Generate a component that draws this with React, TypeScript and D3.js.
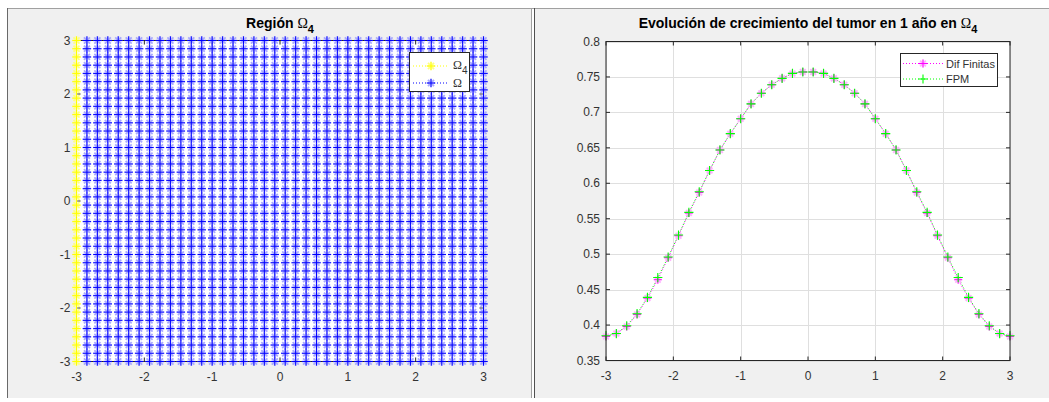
import React from 'react';
import * as d3 from 'd3';

// grid nodes used by both figures (linspace(-3,3,40))
const xNodes = [
  -3, -2.8462, -2.6923, -2.5385, -2.3846, -2.2308, -2.0769, -1.9231, -1.7692, -1.6154,
  -1.4615, -1.3077, -1.1538, -1.0, -0.8462, -0.6923, -0.5385, -0.3846, -0.2308, -0.0769,
  0.0769, 0.2308, 0.3846, 0.5385, 0.6923, 0.8462, 1.0, 1.1538, 1.3077, 1.4615,
  1.6154, 1.7692, 1.9231, 2.0769, 2.2308, 2.3846, 2.5385, 2.6923, 2.8462, 3,
];
const yNodes = xNodes;

// tumour growth after 1 year
const difFinitas = [
  0.384, 0.388, 0.398, 0.415, 0.438, 0.464, 0.495, 0.526, 0.558, 0.587,
  0.618, 0.647, 0.670, 0.691, 0.712, 0.727, 0.739, 0.748, 0.755, 0.757,
  0.757, 0.755, 0.748, 0.739, 0.727, 0.712, 0.691, 0.670, 0.647, 0.618,
  0.587, 0.558, 0.526, 0.495, 0.464, 0.438, 0.415, 0.398, 0.388, 0.384,
];
const fpm = [
  0.385, 0.388, 0.399, 0.416, 0.439, 0.467, 0.496, 0.527, 0.559, 0.588,
  0.618, 0.647, 0.670, 0.691, 0.712, 0.727, 0.739, 0.748, 0.755, 0.757,
  0.757, 0.755, 0.748, 0.739, 0.727, 0.712, 0.691, 0.670, 0.647, 0.618,
  0.588, 0.559, 0.527, 0.496, 0.467, 0.439, 0.416, 0.399, 0.388, 0.385,
];

const leftTicks = [-3, -2, -1, 0, 1, 2, 3];
const rightXTicks = [-3, -2, -1, 0, 1, 2, 3];
const rightYTicks = [0.35, 0.4, 0.45, 0.5, 0.55, 0.6, 0.65, 0.7, 0.75, 0.8];

const FONT = '"Liberation Sans", Arial, Helvetica, sans-serif';
const SERIF = '"Liberation Serif", "Times New Roman", serif';
const TXT = '#333';
const AX = '#262626';
const TICK_FS = 12;
const TITLE_FS = 14;

function starPaths(pts: [number, number][], r: number) {
  let plus = '';
  let cross = '';
  const d = r * 0.72;
  pts.forEach(([x, y]) => {
    plus += `M${x - r},${y}h${2 * r}M${x},${y - r}v${2 * r}`;
    cross += `M${x - d},${y - d}l${2 * d},${2 * d}M${x - d},${y + d}l${2 * d},${-2 * d}`;
  });
  return { plus, cross };
}

function plusPath(pts: [number, number][], r: number) {
  let p = '';
  pts.forEach(([x, y]) => {
    p += `M${x - r},${y}h${2 * r}M${x},${y - r}v${2 * r}`;
  });
  return p;
}

const Stars: React.FC<{ pts: [number, number][]; color: string; halo: string; r?: number }> = ({ pts, color, halo, r = 4 }) => {
  const { plus, cross } = starPaths(pts, r);
  return (
    <g>
      <path d={cross} stroke={halo} strokeWidth={1.8} fill="none" />
      <path d={plus} stroke={halo} strokeWidth={2.2} fill="none" opacity={0.6} />
      <path d={plus} stroke={color} strokeWidth={1} fill="none" />
    </g>
  );
};

const LeftPlot: React.FC = () => {
  const x = d3.scaleLinear().domain([-3, 3]).range([76.5, 483.5]);
  const y = d3.scaleLinear().domain([-3, 3]).range([361.5, 40.5]);
  const x0 = x(-3), x1 = x(3), y0 = y(-3), y1 = y(3);

  const omega4: [number, number][] = yNodes.map((v) => [x(xNodes[0]), y(v)]);
  const omega: [number, number][] = [];
  xNodes.slice(1).forEach((xv) => yNodes.forEach((yv) => omega.push([x(xv), y(yv)])));

  const colLine = d3.line<number>().x(() => 0).y((v) => y(v));

  return (
    <g>
      <rect x={x0} y={y1} width={x1 - x0} height={y0 - y1} fill="#fff" />
      {/* dotted connecting lines, one per column */}
      {xNodes.map((xv, i) => (
        <path key={i} transform={`translate(${x(xv)},0)`} d={colLine(yNodes) || ''}
          stroke={i === 0 ? '#ffff00' : '#0000ff'} strokeWidth={1} strokeDasharray="1 2" fill="none" />
      ))}
      {/* axes box and ticks */}
      <rect x={x0} y={y1} width={x1 - x0} height={y0 - y1} fill="none" stroke={AX} strokeWidth={1} />
      {leftTicks.map((t) => (
        <g key={'t' + t} stroke={AX} strokeWidth={1}>
          <line x1={x(t)} x2={x(t)} y1={y0} y2={y0 - 4} />
          <line x1={x(t)} x2={x(t)} y1={y1} y2={y1 + 4} />
          <line x1={x0} x2={x0 + 4} y1={y(t)} y2={y(t)} />
          <line x1={x1} x2={x1 - 4} y1={y(t)} y2={y(t)} />
        </g>
      ))}
      <Stars pts={omega} color="#0000ff" halo="#a8a8ff" r={4.2} />
      <Stars pts={omega4} color="#ffff00" halo="#ffff80" r={4.2} />
      {leftTicks.map((t) => (
        <text key={'xl' + t} x={x(t)} y={y0 + 19} textAnchor="middle" fontFamily={FONT} fontSize={TICK_FS} fill={TXT}>{t}</text>
      ))}
      {leftTicks.map((t) => (
        <text key={'yl' + t} x={x0 - 6} y={y(t) + 4} textAnchor="end" fontFamily={FONT} fontSize={TICK_FS} fill={TXT}>{t}</text>
      ))}
      <text x={(x0 + x1) / 2} y={28} textAnchor="middle" fontFamily={FONT} fontSize={TITLE_FS} fontWeight="bold" fill="#000">
        Región <tspan fontFamily={SERIF} fontWeight="normal">Ω</tspan><tspan dy={5} fontSize={11}>4</tspan>
      </text>
      {/* legend */}
      <g>
        <rect x={409.5} y={52.5} width={60} height={39} fill="#fff" stroke={AX} strokeWidth={1} />
        <line x1={413} x2={449} y1={66} y2={66} stroke="#ffff00" strokeDasharray="1 2" />
        <Stars pts={[[431, 66]]} color="#ffff00" halo="#ffff80" r={4.2} />
        <text x={453} y={69} fontFamily={SERIF} fontSize={12} fill={TXT}>Ω<tspan dy={5} fontFamily={FONT} fontSize={10}>4</tspan></text>
        <line x1={413} x2={449} y1={83} y2={83} stroke="#0000ff" strokeDasharray="1 2" />
        <Stars pts={[[431, 83]]} color="#0000ff" halo="#a8a8ff" r={4.2} />
        <text x={453} y={87} fontFamily={SERIF} fontSize={12} fill={TXT}>Ω</text>
      </g>
    </g>
  );
};

const RightPlot: React.FC = () => {
  const x = d3.scaleLinear().domain([-3, 3]).range([606, 1010]);
  const y = d3.scaleLinear().domain([0.35, 0.8]).range([360.5, 41.5]);
  const x0 = x(-3), x1 = x(3), y0 = y(0.35), y1 = y(0.8);
  const line = d3.line<number>().x((_, i) => x(xNodes[i])).y((v) => y(v));

  const dfPts: [number, number][] = difFinitas.map((v, i) => [x(xNodes[i]), y(v)]);
  const fpmPts: [number, number][] = fpm.map((v, i) => [x(xNodes[i]), y(v)]);

  return (
    <g>
      <rect x={x0} y={y1} width={x1 - x0} height={y0 - y1} fill="#fff" />
      {rightXTicks.map((t) => (
        <line key={'gx' + t} x1={Math.round(x(t)) + 0.5} x2={Math.round(x(t)) + 0.5} y1={y1} y2={y0} stroke="#dfdfdf" />
      ))}
      {rightYTicks.map((t) => (
        <line key={'gy' + t} x1={x0} x2={x1} y1={Math.round(y(t)) + 0.5} y2={Math.round(y(t)) + 0.5} stroke="#dfdfdf" />
      ))}
      <path d={line(difFinitas) || ''} stroke="#ff00ff" strokeWidth={1} strokeDasharray="1 2" fill="none" />
      <path d={line(fpm) || ''} stroke="#00ff00" strokeWidth={1} strokeDasharray="1 2" strokeDashoffset={1.5} fill="none" />
      <Stars pts={dfPts} color="#ff00ff" halo="#ffb0ff" r={4} />
      <path d={plusPath(fpmPts, 4.6)} stroke="#00ff00" strokeWidth={1.1} fill="none" />
      <rect x={x0} y={y1} width={x1 - x0} height={y0 - y1} fill="none" stroke={AX} strokeWidth={1} />
      {rightXTicks.map((t) => (
        <g key={'tx' + t} stroke={AX}>
          <line x1={x(t)} x2={x(t)} y1={y0} y2={y0 - 4} />
          <line x1={x(t)} x2={x(t)} y1={y1} y2={y1 + 4} />
        </g>
      ))}
      {rightYTicks.map((t) => (
        <g key={'ty' + t} stroke={AX}>
          <line x1={x0} x2={x0 + 4} y1={y(t)} y2={y(t)} />
          <line x1={x1} x2={x1 - 4} y1={y(t)} y2={y(t)} />
        </g>
      ))}
      {rightXTicks.map((t) => (
        <text key={'xl' + t} x={x(t)} y={y0 + 19} textAnchor="middle" fontFamily={FONT} fontSize={TICK_FS} fill={TXT}>{t}</text>
      ))}
      {rightYTicks.map((t) => (
        <text key={'yl' + t} x={x0 - 6} y={y(t) + 4} textAnchor="end" fontFamily={FONT} fontSize={TICK_FS} fill={TXT}>{String(t)}</text>
      ))}
      <text x={(x0 + x1) / 2} y={28} textAnchor="middle" fontFamily={FONT} fontSize={TITLE_FS} fontWeight="bold" fill="#000">
        Evolución de crecimiento del tumor en 1 año en <tspan fontFamily={SERIF} fontWeight="normal">Ω</tspan><tspan dy={5} fontSize={11}>4</tspan>
      </text>
      {/* legend */}
      <g>
        <rect x={900.5} y={53.5} width={97} height={33} fill="#fff" stroke={AX} strokeWidth={1} />
        <line x1={903} x2={943} y1={63.5} y2={63.5} stroke="#ff00ff" strokeDasharray="1 2" />
        <Stars pts={[[923, 63.5]]} color="#ff00ff" halo="#ffb0ff" r={4} />
        <text x={946} y={67.5} fontFamily={FONT} fontSize={11} fill={TXT}>Dif Finitas</text>
        <line x1={903} x2={943} y1={79} y2={79} stroke="#00ff00" strokeDasharray="1 2" />
        <path d={plusPath([[923, 79]], 4.6)} stroke="#00ff00" strokeWidth={1.1} fill="none" />
        <text x={946} y={83} fontFamily={FONT} fontSize={11} fill={TXT}>FPM</text>
      </g>
    </g>
  );
};

export default function App() {
  return (
    <svg width={1049} height={402} style={{ position: 'absolute', left: 0, top: 0 }}>
      <rect x={0} y={0} width={1049} height={402} fill="#fff" />
      {/* figure panels */}
      <rect x={7} y={8} width={524} height={390} fill="#f0f0f0" />
      <rect x={535} y={8} width={514} height={390} fill="#f0f0f0" />
      <line x1={7} x2={1049} y1={8.5} y2={8.5} stroke="#a0a0a0" />
      <line x1={7.5} x2={7.5} y1={8} y2={398} stroke="#696969" />
      <line x1={531.5} x2={531.5} y1={8} y2={398} stroke="#a0a0a0" />
      <line x1={534.5} x2={534.5} y1={8} y2={398} stroke="#505050" />
      <LeftPlot />
      <RightPlot />
    </svg>
  );
}
